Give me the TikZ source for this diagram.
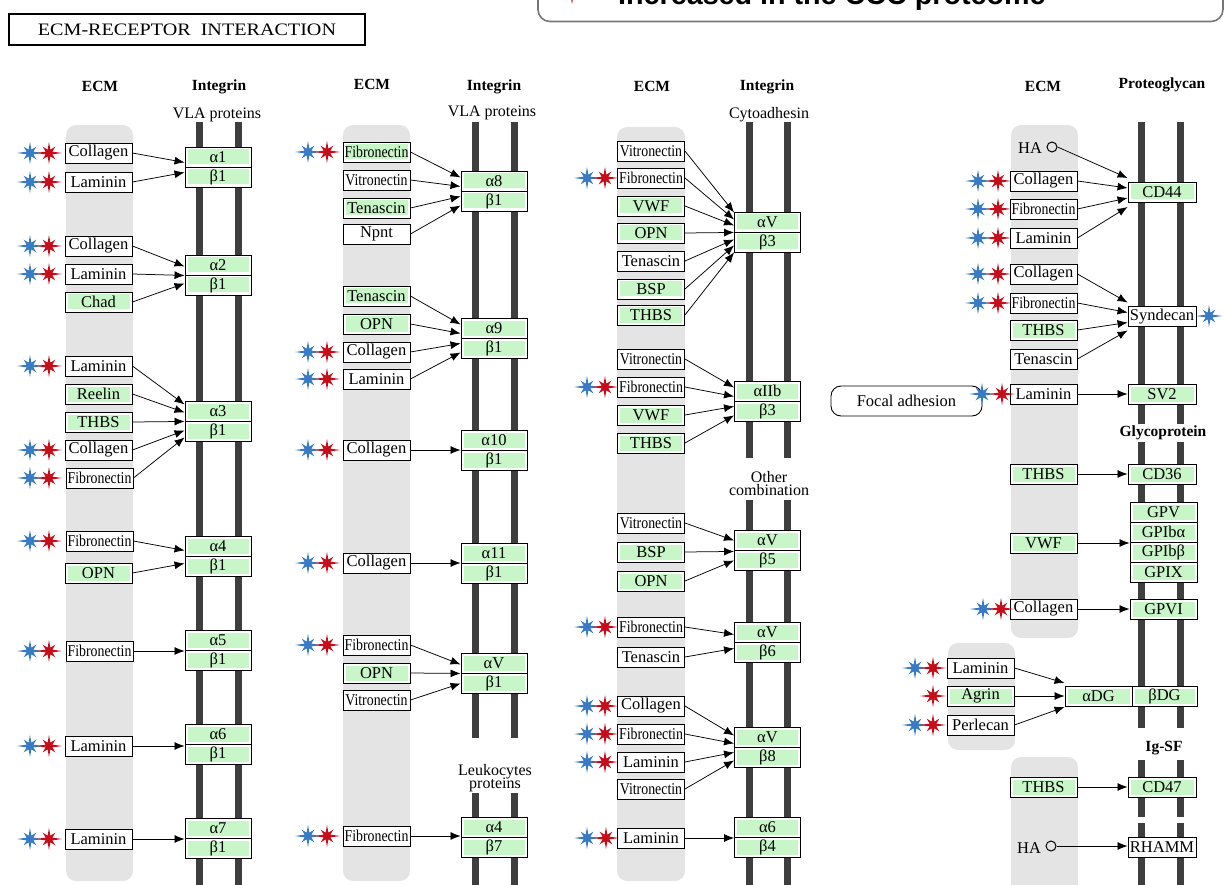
\documentclass[tikz,border=0pt]{standalone}
\usepackage{fontspec}
\usepackage{graphicx}
\setmainfont{Liberation Serif}
\newfontfamily\legfont{Liberation Sans}
\usetikzlibrary{arrows.meta,calc}
\definecolor{kgreen}{RGB}{200,246,200}
\definecolor{kgray}{RGB}{228,228,228}
\definecolor{kbar}{RGB}{62,62,62}
\definecolor{sblue}{RGB}{56,122,196}
\definecolor{sred}{RGB}{198,14,26}
\definecolor{legline}{RGB}{118,118,118}
\newcommand\kfib{\scalebox{0.84}[1]{Fibronectin}}
\newcommand\kvit{\scalebox{0.84}[1]{Vitronectin}}
\tikzset{
  box/.style={draw=black, line width=0.9pt, fill=white, inner sep=0pt,
    minimum height=20pt, font=\fontsize{16.5}{16.5}\selectfont},
  gfill/.style={path picture={\fill[kgreen]
      ([xshift=2.5pt,yshift=-2.5pt]path picture bounding box.north west) rectangle
      ([xshift=-2.5pt,yshift=2.5pt]path picture bounding box.south east);}},
  lig/.style={box, minimum width=67pt},
  ligg/.style={lig, gfill},
  rec/.style={box, minimum width=66pt, gfill},
  recw/.style={box, minimum width=68pt},
  recg/.style={box, minimum width=68pt, gfill},
  arr/.style={-{Latex[length=10pt,width=8pt]}, line width=0.75pt},
  hdr/.style={font=\bfseries\fontsize{15.5}{15.5}\selectfont},
  sub/.style={font=\fontsize{16}{16}\selectfont, inner sep=0pt},
  ecm/.style={fill=kgray, rounded corners=10pt},
  bar/.style={fill=kbar},
  pics/kstar/.style={code={\fill[#1] (0:13) -- (22.5:3.6) -- (45:9) -- (67.5:3.6) -- (90:11) -- (112.5:3.6) -- (135:9) -- (157.5:3.6) -- (180:13) -- (202.5:3.6) -- (225:9) -- (247.5:3.6) -- (270:11) -- (292.5:3.6) -- (315:9) -- (337.5:3.6) -- cycle;}},
}
\newcommand\kpair[5]{%
  \node[rec] (#1t) at (#2,#3-10) {#4};
  \node[rec] (#1b) at (#2,#3+10) {#5};}
\newcommand\kst[3]{\pic at (#1,#3) {kstar=sblue}; \pic at (#2,#3) {kstar=sred};}
\begin{document}
\begin{tikzpicture}[x=1pt,y=-1pt]
\useasboundingbox (0,0) rectangle (1226,885);
\clip (0,0) rectangle (1226,885);
% legend (cut off)
\draw[legline, line width=1.6pt, rounded corners=12pt] (538,-60) rectangle (1223,21.5);
\pic at (572,-7) {kstar=sred};
\node[anchor=base west, inner sep=0pt, font=\legfont\bfseries\fontsize{28.7}{30}\selectfont] (leg) at (618,5) {Increased in the CCC proteome};
% title
\node[draw, line width=2pt, minimum width=356pt, minimum height=31pt, inner sep=0pt] (title) at (187,29.5) {\fontsize{17.5}{17.5}\selectfont\scalebox{1.15}[1]{ECM-RECEPTOR~~INTERACTION}};
% ECM columns
\fill[ecm] (66,125) rectangle (133,881);
\fill[ecm] (343,125) rectangle (410,881);
\fill[ecm] (617,127) rectangle (685,881);
\fill[ecm] (1011,125) rectangle (1078,638);
\fill[ecm] (948,643) rectangle (1015,750);
\fill[ecm] (1011,757) rectangle (1078,900);
% membrane bars
\fill[bar] (196,122) rectangle (203,885);
\fill[bar] (235,122) rectangle (242,885);
\fill[bar] (472,122) rectangle (479,738);
\fill[bar] (511,122) rectangle (518,738);
\fill[bar] (472,793) rectangle (479,885);
\fill[bar] (511,793) rectangle (518,885);
\fill[bar] (746,122) rectangle (753,458);
\fill[bar] (784,122) rectangle (791,458);
\fill[bar] (746,500) rectangle (753,885);
\fill[bar] (784,500) rectangle (791,885);
\fill[bar] (1138,122) rectangle (1145,728);
\fill[bar] (1177,122) rectangle (1184,728);
\fill[bar] (1138,760) rectangle (1145,817);
\fill[bar] (1177,760) rectangle (1184,817);
\fill[bar] (1138,823) rectangle (1145,885);
\fill[bar] (1177,823) rectangle (1184,885);
% headers
\node[hdr] (h1) at (100,86) {ECM};
\node[hdr] (h2) at (219,87) {Integrin};
\node[sub] (s1) at (217,115) {VLA proteins};
\node[hdr] (h3) at (372,84) {ECM};
\node[hdr] (h4) at (494,87) {Integrin};
\node[sub] (s2) at (492,113) {VLA proteins};
\node[hdr] (h5) at (652,86) {ECM};
\node[hdr] (h6) at (767,87) {Integrin};
\node[sub] (s3) at (769,115) {Cytoadhesin};
\node[hdr] (h7) at (1043,86) {ECM};
\node[hdr] (h8) at (1162,85) {Proteoglycan};
\node[hdr, fill=white, inner sep=1.5pt] (h9) at (1163,433) {Glycoprotein};
\node[sub, anchor=base] (s4a) at (769,482) {Other};
\node[sub, anchor=base] (s4b) at (769,495) {combination};
\node[sub, anchor=base] (s5a) at (495,775) {Leukocytes};
\node[sub, anchor=base] (s5b) at (495,788) {proteins};
\node[hdr] (h10) at (1164,748) {Ig-SF};
% ---------- column 1 ----------
\node[lig] (c1a) at (98.5,153) {Collagen};
\node[lig] (c1b) at (98.5,182) {Laminin};
\node[lig] (c2a) at (98.5,246) {Collagen};
\node[lig] (c2b) at (98.5,274) {Laminin};
\node[ligg] (c2c) at (98.5,302) {Chad};
\node[lig] (c3a) at (98.5,366) {Laminin};
\node[ligg] (c3b) at (98.5,394) {Reelin};
\node[ligg] (c3c) at (98.5,422) {THBS};
\node[lig] (c3d) at (98.5,450) {Collagen};
\node[lig] (c3e) at (99.5,478) {\kfib};
\node[lig] (c4a) at (99.5,541) {\kfib};
\node[ligg] (c4b) at (98.5,573) {OPN};
\node[lig] (c5) at (99.5,651) {\kfib};
\node[lig] (c6) at (98.5,746) {Laminin};
\node[lig] (c7) at (98.5,839) {Laminin};
\kpair{r1}{218}{167}{α1}{β1}
\kpair{r2}{218}{275}{α2}{β1}
\kpair{r3}{218}{421}{α3}{β1}
\kpair{r4}{218}{556}{α4}{β1}
\kpair{r5}{218}{650}{α5}{β1}
\kpair{r6}{218}{744}{α6}{β1}
\kpair{r7}{218}{838}{α7}{β1}
\draw[arr] (c1a.east) -- ([yshift=5pt]r1t.south west);
\draw[arr] (c1b.east) -- ([yshift=-5pt]r1t.south west);
\draw[arr] (c2a.east) -- ([yshift=9pt]r2t.south west);
\draw[arr] (c2b.east) -- ([yshift=0pt]r2t.south west);
\draw[arr] (c2c.east) -- ([yshift=-8pt]r2t.south west);
\draw[arr] (c3a.east) -- ([yshift=17pt]r3t.south west);
\draw[arr] (c3b.east) -- ([yshift=9pt]r3t.south west);
\draw[arr] (c3c.east) -- ([yshift=0pt]r3t.south west);
\draw[arr] (c3d.east) -- ([yshift=-9pt]r3t.south west);
\draw[arr] (c3e.east) -- ([yshift=-16pt]r3t.south west);
\draw[arr] (c4a.east) -- ([yshift=6pt]r4t.south west);
\draw[arr] (c4b.east) -- ([yshift=-7pt]r4t.south west);
\draw[arr] (c5.east) -- (c5.east -| r5t.west);
\draw[arr] (c6.east) -- (c6.east -| r6t.west);
\draw[arr] (c7.east) -- (c7.east -| r7t.west);
% ---------- column 2 ----------
\node[ligg] (d8a) at (376.5,152) {\kfib};
\node[lig] (d8b) at (376.5,180) {\kvit};
\node[ligg] (d8c) at (376.5,208) {Tenascin};
\node[lig] (d8d) at (376.5,234) {Npnt};
\node[ligg] (d9a) at (376.5,296) {Tenascin};
\node[ligg] (d9b) at (376.5,324) {OPN};
\node[lig] (d9c) at (376.5,352) {Collagen};
\node[lig] (d9d) at (376.5,379) {Laminin};
\node[lig] (d10) at (376.5,450) {Collagen};
\node[lig] (d11) at (376.5,563) {Collagen};
\node[lig] (dva) at (376.5,645) {\kfib};
\node[ligg] (dvb) at (376.5,673) {OPN};
\node[lig] (dvc) at (376.5,700) {\kvit};
\node[lig] (d47) at (376.5,836) {\kfib};
\kpair{r8}{494}{191}{α8}{β1}
\kpair{r9}{494}{338}{α9}{β1}
\kpair{r10}{494}{450}{α10}{β1}
\kpair{r11}{494}{563}{α11}{β1}
\kpair{rva}{494}{673}{αV}{β1}
\kpair{rlk}{494}{837}{α4}{β7}
\draw[arr] (d8a.east) -- ([yshift=14pt]r8t.south west);
\draw[arr] (d8b.east) -- ([yshift=5pt]r8t.south west);
\draw[arr] (d8c.east) -- ([yshift=-5pt]r8t.south west);
\draw[arr] (d8d.east) -- ([yshift=-14pt]r8t.south west);
\draw[arr] (d9a.east) -- ([yshift=14pt]r9t.south west);
\draw[arr] (d9b.east) -- ([yshift=5pt]r9t.south west);
\draw[arr] (d9c.east) -- ([yshift=-5pt]r9t.south west);
\draw[arr] (d9d.east) -- ([yshift=-14pt]r9t.south west);
\draw[arr] (d10.east) -- (d10.east -| r10t.west);
\draw[arr] (d11.east) -- (d11.east -| r11t.west);
\draw[arr] (dva.east) -- ([yshift=9pt]rvat.south west);
\draw[arr] (dvb.east) -- ([yshift=0pt]rvat.south west);
\draw[arr] (dvc.east) -- ([yshift=-10pt]rvat.south west);
\draw[arr] (d47.east) -- (d47.east -| rlkt.west);
% ---------- column 3 ----------
\node[lig] (e3a) at (651,151) {\kvit};
\node[lig] (e3b) at (651,178) {\kfib};
\node[ligg] (e3c) at (651,206) {VWF};
\node[ligg] (e3d) at (651,233) {OPN};
\node[lig] (e3e) at (651,261) {Tenascin};
\node[ligg] (e3f) at (651,289) {BSP};
\node[ligg] (e3g) at (651,315) {THBS};
\node[lig] (e2a) at (651,359) {\kvit};
\node[lig] (e2b) at (651,387) {\kfib};
\node[ligg] (e2c) at (651,415) {VWF};
\node[ligg] (e2d) at (651,443) {THBS};
\node[lig] (e5a) at (651,523) {\kvit};
\node[ligg] (e5b) at (651,552) {BSP};
\node[ligg] (e5c) at (651,581) {OPN};
\node[lig] (e6a) at (651,627) {\kfib};
\node[lig] (e6b) at (651,657) {Tenascin};
\node[lig] (e8a) at (651,706) {Collagen};
\node[lig] (e8b) at (651,734) {\kfib};
\node[lig] (e8c) at (651,762) {Laminin};
\node[lig] (e8d) at (651,789) {\kvit};
\node[lig] (e4) at (651,838) {Laminin};
\kpair{rv3}{767.5}{232}{αV}{β3}
\kpair{rib}{767.5}{401}{αIIb}{β3}
\kpair{rv5}{767.5}{550}{αV}{β5}
\kpair{rv6}{767.5}{642}{αV}{β6}
\kpair{rv8}{767.5}{747}{αV}{β8}
\kpair{r64}{767.5}{837}{α6}{β4}
\draw[arr] (e3a.east) -- ([yshift=20pt]rv3t.south west);
\draw[arr] (e3b.east) -- ([yshift=13pt]rv3t.south west);
\draw[arr] (e3c.east) -- ([yshift=7pt]rv3t.south west);
\draw[arr] (e3d.east) -- ([yshift=0pt]rv3t.south west);
\draw[arr] (e3e.east) -- ([yshift=-7pt]rv3t.south west);
\draw[arr] (e3f.east) -- ([yshift=-13pt]rv3t.south west);
\draw[arr] (e3g.east) -- ([yshift=-20pt]rv3t.south west);
\draw[arr] (e2a.east) -- ([yshift=14pt]ribt.south west);
\draw[arr] (e2b.east) -- ([yshift=5pt]ribt.south west);
\draw[arr] (e2c.east) -- ([yshift=-5pt]ribt.south west);
\draw[arr] (e2d.east) -- ([yshift=-14pt]ribt.south west);
\draw[arr] (e5a.east) -- ([yshift=10pt]rv5t.south west);
\draw[arr] (e5b.east) -- ([yshift=-1pt]rv5t.south west);
\draw[arr] (e5c.east) -- ([yshift=-10pt]rv5t.south west);
\draw[arr] (e6a.east) -- ([yshift=8pt]rv6t.south west);
\draw[arr] (e6b.east) -- ([yshift=-6pt]rv6t.south west);
\draw[arr] (e8a.east) -- ([yshift=12pt]rv8t.south west);
\draw[arr] (e8b.east) -- ([yshift=4pt]rv8t.south west);
\draw[arr] (e8c.east) -- ([yshift=-5pt]rv8t.south west);
\draw[arr] (e8d.east) -- ([yshift=-13pt]rv8t.south west);
\draw[arr] (e4.east) -- (e4.east -| r64t.west);
% ---------- column 4 ----------
\node[font=\fontsize{16.5}{16.5}\selectfont, inner sep=0pt] (ha1t) at (1030,148) {HA};
\node[draw, circle, line width=1pt, minimum size=10pt, inner sep=0pt] (ha1) at (1052,147) {};
\node[lig] (f1a) at (1043.5,181) {Collagen};
\node[lig] (f1b) at (1043.5,209) {\kfib};
\node[lig] (f1c) at (1043.5,238) {Laminin};
\node[lig] (f2a) at (1043.5,274) {Collagen};
\node[lig] (f2b) at (1043.5,303) {\kfib};
\node[ligg] (f2c) at (1043.5,330) {THBS};
\node[lig] (f2d) at (1043.5,359) {Tenascin};
\node[lig] (f3) at (1043.5,394) {Laminin};
\node[draw, line width=0.9pt, rounded corners=10pt, minimum width=151pt, minimum height=30pt, font=\fontsize{16.5}{16.5}\selectfont] (fa) at (906.5,401) {Focal adhesion};
\node[ligg] (f4) at (1043.5,474) {THBS};
\node[ligg] (f5) at (1043.5,543) {VWF};
\node[lig] (f6) at (1043.5,609) {Collagen};
\node[lig] (g1) at (980.5,668) {Laminin};
\node[ligg] (g2) at (980.5,696) {Agrin};
\node[lig] (g3) at (980.5,725) {Perlecan};
\node[ligg] (f7) at (1043.5,787) {THBS};
\node[font=\fontsize{16.5}{16.5}\selectfont, inner sep=0pt] (ha2t) at (1029,848) {HA};
\node[draw, circle, line width=1pt, minimum size=10pt, inner sep=0pt] (ha2) at (1051,846) {};
\node[recg] (cd44) at (1162,192) {CD44};
\node[recw] (synd) at (1162,316.5) {Syndecan};
\node[recg] (sv2) at (1162,394) {SV2};
\node[recg] (cd36) at (1162,474) {CD36};
\node[box, minimum width=67pt, gfill] (gpv) at (1163.5,512) {GPV};
\node[box, minimum width=67pt, gfill] (gpiba) at (1163.5,532) {GPIbα};
\node[box, minimum width=67pt, gfill] (gpibb) at (1163.5,552) {GPIbβ};
\node[box, minimum width=67pt, gfill] (gpix) at (1163.5,572) {GPIX};
\node[box, minimum width=67pt, gfill] (gpvi) at (1163.5,609) {GPVI};
\node[box, minimum width=67pt, gfill] (adg) at (1098.5,696) {αDG};
\node[box, minimum width=65pt, gfill] (bdg) at (1164.5,696) {βDG};
\node[recg] (cd47) at (1162,787) {CD47};
\node[recw] (rhamm) at (1162,847) {RHAMM};
\draw[arr] (ha1.east) -- ([yshift=14pt]cd44.west);
\draw[arr] (f1a.east) -- ([yshift=4pt]cd44.west);
\draw[arr] (f1b.east) -- ([yshift=-6pt]cd44.west);
\draw[arr] (f1c.east) -- ([yshift=-15pt]cd44.west);
\draw[arr] (f2a.east) -- ([yshift=14pt]synd.west);
\draw[arr] (f2b.east) -- ([yshift=4pt]synd.west);
\draw[arr] (f2c.east) -- ([yshift=-6pt]synd.west);
\draw[arr] (f2d.east) -- ([yshift=-14pt]synd.west);
\draw[arr] (f3.east) -- (f3.east -| sv2.west);
\draw[arr] (f4.east) -- (f4.east -| cd36.west);
\draw[arr] (f5.east) -- (f5.east -| gpibb.west);
\draw[arr] (f6.east) -- (f6.east -| gpvi.west);
\draw[arr] (g1.east) -- ([yshift=13pt]adg.west);
\draw[arr] (g2.east) -- ([yshift=0pt]adg.west);
\draw[arr] (g3.east) -- ([yshift=-11pt]adg.west);
\draw[arr] (f7.east) -- (f7.east -| cd47.west);
\draw[arr] (ha2.east) -- (ha2.east -| rhamm.west);
% ---------- stars ----------
\kst{30}{49}{153} \kst{30}{49}{182} \kst{30}{49}{246} \kst{30}{49}{274}
\kst{30}{49}{366} \kst{30}{49}{450} \kst{30}{49}{478} \kst{30}{49}{541}
\kst{30}{49}{651} \kst{30}{49}{746} \kst{30}{49}{839}
\kst{308}{327}{152} \kst{308}{327}{352} \kst{308}{327}{379} \kst{308}{327}{450}
\kst{308}{327}{563} \kst{308}{327}{645} \kst{308}{327}{836}
\kst{587}{605}{178} \kst{587}{605}{387} \kst{587}{605}{627} \kst{587}{605}{706}
\kst{587}{605}{734} \kst{587}{605}{762} \kst{587}{606}{838}
\kst{978}{998}{181} \kst{978}{998}{209} \kst{978}{998}{238} \kst{978}{998}{274}
\kst{978}{998}{303} \kst{982}{1002}{394} \kst{983}{1001}{609}
\kst{915}{933}{668} \kst{915}{933}{725}
\pic at (933,696) {kstar=sred};
\pic at (1209,316) {kstar=sblue};
\end{tikzpicture}
\end{document}
